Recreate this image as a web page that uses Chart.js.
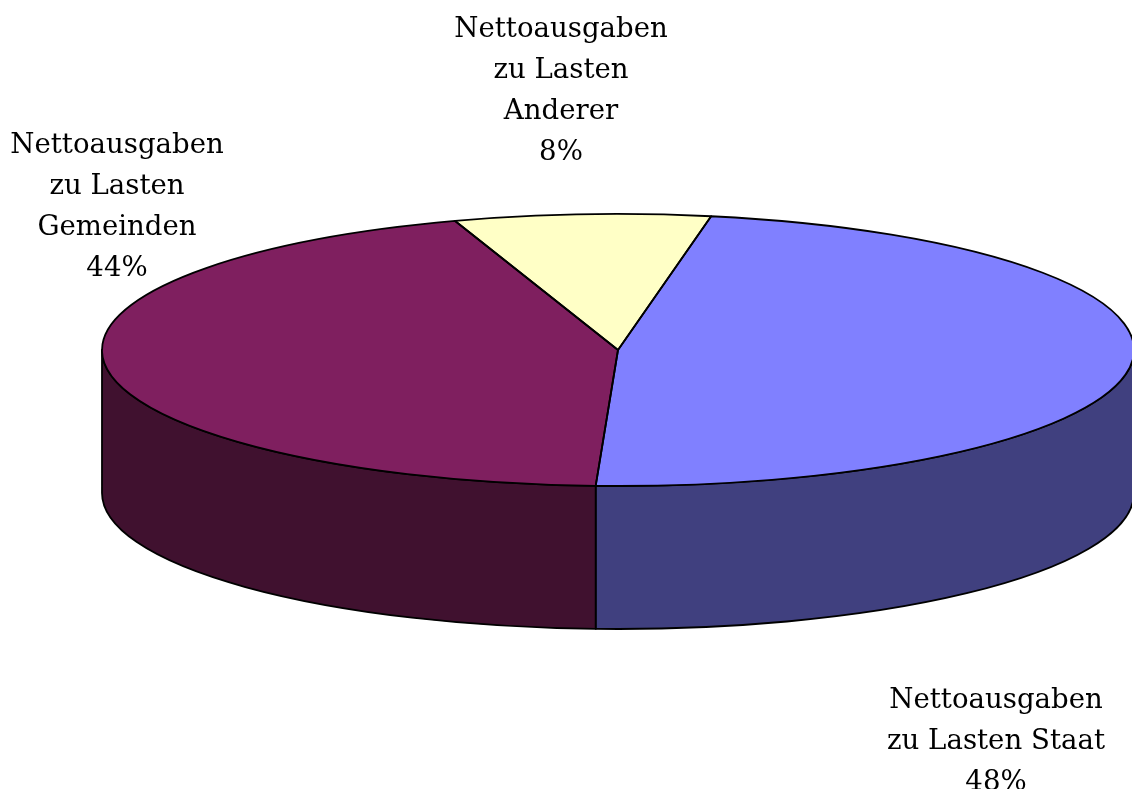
<!DOCTYPE html>
<html>
<head>
<meta charset="utf-8">
<script src="https://cdn.jsdelivr.net/npm/chart.js@4/dist/chart.umd.min.js"></script>
<style>
html,body{margin:0;padding:0;background:#fff;}
#wrap{width:1132px;height:789px;position:relative;}
</style>
</head>
<body>
<div id="wrap"><canvas id="c" width="1132" height="789"></canvas></div>
<script>
// ---- data ----
const categories = ["Nettoausgaben zu Lasten Staat", "Nettoausgaben zu Lasten Gemeinden", "Nettoausgaben zu Lasten Anderer"];
const labelLines = [
  ["Nettoausgaben", "zu Lasten Staat"],
  ["Nettoausgaben", "zu Lasten", "Gemeinden"],
  ["Nettoausgaben", "zu Lasten", "Anderer"]
];
const values = [47.8, 44.2, 8.0];
const topColors = ["#8080FF", "#7F1F5F", "#FFFFC6"];
const sideColors = ["#40407F", "#40112F", "#7F7F60"];

// ---- layout (styling) ----
const PIE = {cx: 618, cy: 350, rx: 516, ry: 136, depth: 143};
const LABEL_POS = [
  {x: 996, y: 708},
  {x: 117, y: 153},
  {x: 561, y: 37}
];
const LINE_H = 41;
const FONT = '27.6px "DejaVu Serif"';

function toScreen(ang) {
  return [PIE.cx + PIE.rx * Math.cos(ang), PIE.cy + PIE.ry * Math.sin(ang)];
}

const pie3d = {
  id: 'pie3d',
  beforeDatasetsDraw(chart) {
    const ctx = chart.ctx;
    const meta = chart.getDatasetMeta(0);
    // sides
    meta.data.forEach((arc, i) => {
      const p = arc.getProps(['startAngle', 'endAngle'], true);
      let a1 = p.startAngle, a2 = p.endAngle;
      const TWO = Math.PI * 2;
      for (let k = -1; k <= 1; k++) {
        const s = Math.max(a1, k * TWO);
        const e = Math.min(a2, k * TWO + Math.PI);
        if (e <= s) continue;
        ctx.save();
        ctx.beginPath();
        ctx.ellipse(PIE.cx, PIE.cy, PIE.rx, PIE.ry, 0, s, e, false);
        ctx.ellipse(PIE.cx, PIE.cy + PIE.depth, PIE.rx, PIE.ry, 0, e, s, true);
        ctx.closePath();
        ctx.fillStyle = sideColors[i];
        ctx.fill();
        ctx.lineWidth = 1.8;
        ctx.strokeStyle = '#000';
        ctx.lineJoin = 'round';
        ctx.stroke();
        ctx.restore();
      }
    });
    // transform for the top face
    const a0 = meta.data[0];
    const R = a0.outerRadius;
    ctx.save();
    ctx.translate(PIE.cx, PIE.cy);
    ctx.scale(PIE.rx / R, PIE.ry / R);
    ctx.translate(-a0.x, -a0.y);
  },
  afterDatasetsDraw(chart) {
    const ctx = chart.ctx;
    ctx.restore();
    const meta = chart.getDatasetMeta(0);
    meta.data.forEach((arc) => {
      const p = arc.getProps(['startAngle', 'endAngle'], true);
      ctx.save();
      ctx.beginPath();
      ctx.moveTo(PIE.cx, PIE.cy);
      const [x1, y1] = toScreen(p.startAngle);
      ctx.lineTo(x1, y1);
      ctx.ellipse(PIE.cx, PIE.cy, PIE.rx, PIE.ry, 0, p.startAngle, p.endAngle, false);
      ctx.closePath();
      ctx.lineWidth = 1.8;
      ctx.lineJoin = 'round';
      ctx.strokeStyle = '#000';
      ctx.stroke();
      ctx.restore();
    });
    // labels
    const total = values.reduce((a, b) => a + b, 0);
    ctx.save();
    ctx.font = FONT;
    ctx.fillStyle = '#000';
    ctx.textAlign = 'center';
    ctx.textBaseline = 'alphabetic';
    labelLines.forEach((lines, i) => {
      const all = lines.concat([Math.round(values[i] / total * 100) + '%']);
      all.forEach((t, j) => {
        ctx.fillText(t, LABEL_POS[i].x, LABEL_POS[i].y + j * LINE_H);
      });
    });
    ctx.restore();
  }
};

new Chart(document.getElementById('c'), {
  type: 'pie',
  data: {
    labels: categories,
    datasets: [{
      data: values,
      backgroundColor: topColors,
      borderWidth: 0,
      hoverOffset: 0,
      clip: false
    }]
  },
  options: {
    responsive: false,
    animation: false,
    rotation: 10.4,
    events: [],
    layout: {padding: 0},
    plugins: {legend: {display: false}, tooltip: {enabled: false}}
  },
  plugins: [pie3d]
});
</script>
</body>
</html>
